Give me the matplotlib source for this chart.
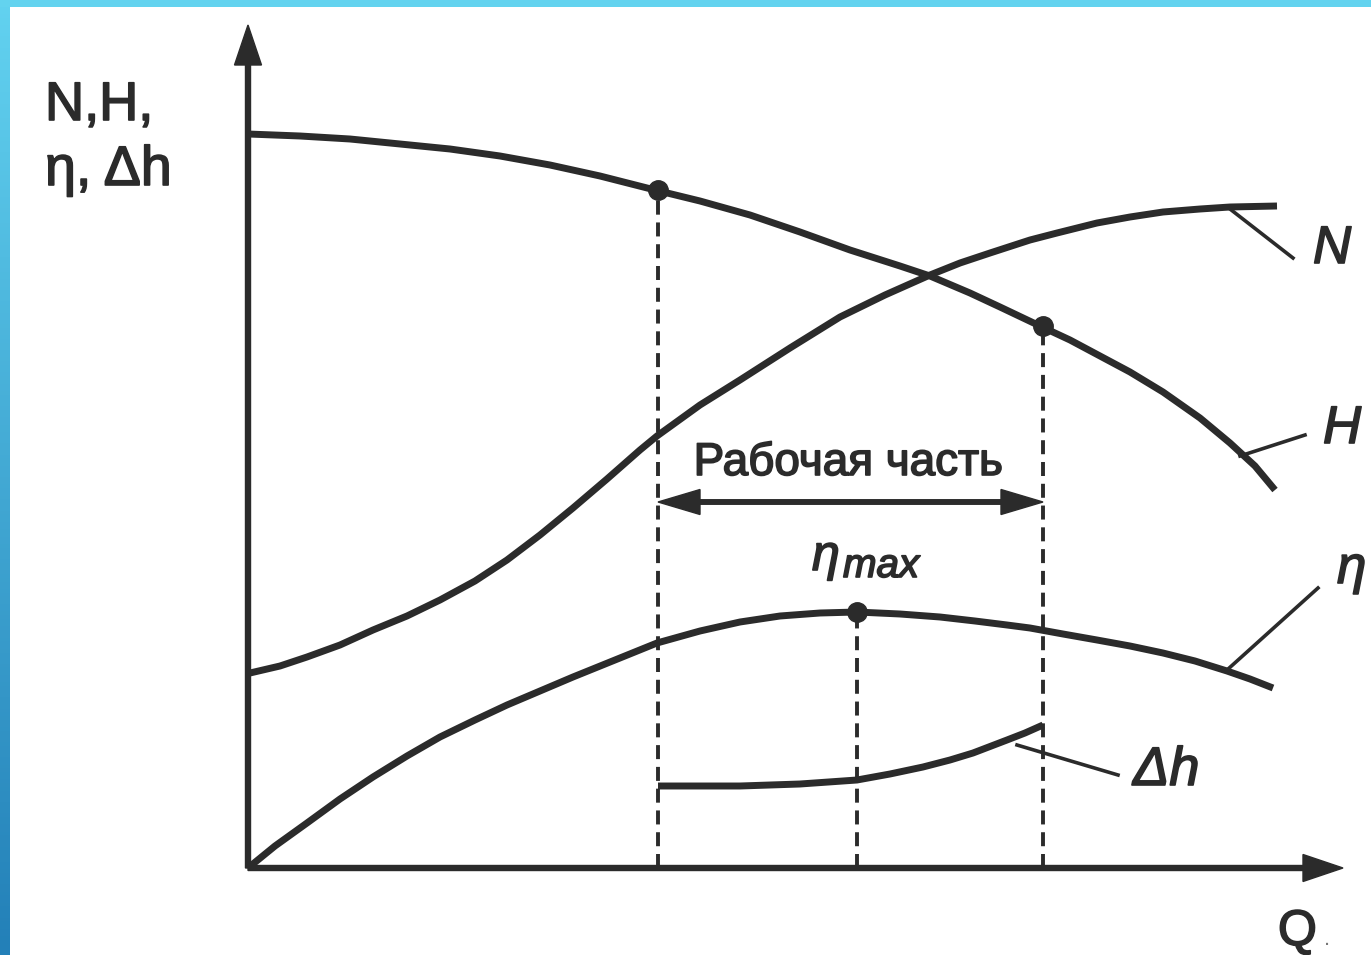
import matplotlib.pyplot as plt
import matplotlib.patheffects as pe
import numpy as np
from matplotlib.colors import LinearSegmentedColormap

# данные кривых (Q и значения в условных единицах)
Q_H = [0.00, 0.52, 1.02, 1.52, 2.02, 2.52, 3.02, 3.52, 4.07, 4.52, 5.02, 5.52, 6.02, 6.52,
       6.82, 7.22, 7.52, 7.92, 8.22, 8.52, 8.82, 9.15, 9.52, 9.82, 10.07, 10.27]
V_H = [7.34, 7.32, 7.29, 7.24, 7.19, 7.12, 7.03, 6.92, 6.78, 6.67, 6.53, 6.36, 6.18, 6.02,
       5.92, 5.75, 5.61, 5.42, 5.28, 5.12, 4.96, 4.76, 4.50, 4.25, 4.02, 3.78]

Q_N = [0.02, 0.32, 0.59, 0.92, 1.25, 1.59, 1.92, 2.27, 2.59, 2.92, 3.25, 3.59, 3.92, 4.09,
       4.52, 4.92, 5.42, 5.92, 6.37, 6.82, 7.12, 7.42, 7.82, 8.09, 8.49, 8.82, 9.15, 9.52,
       9.82, 10.29]
V_N = [1.95, 2.02, 2.11, 2.23, 2.38, 2.52, 2.68, 2.87, 3.08, 3.33, 3.60, 3.89, 4.18, 4.32,
       4.63, 4.88, 5.20, 5.51, 5.73, 5.93, 6.05, 6.15, 6.28, 6.35, 6.45, 6.51, 6.56, 6.59,
       6.61, 6.62]

Q_eta = [0.00, 0.27, 0.59, 0.92, 1.25, 1.59, 1.92, 2.27, 2.59, 2.92, 3.25, 3.67, 4.09,
         4.52, 4.92, 5.32, 5.72, 6.09, 6.52, 6.92, 7.27, 7.59, 7.82, 8.15, 8.49, 8.82, 9.15,
         9.47, 9.79, 10.02, 10.25]
V_eta = [0.00, 0.22, 0.45, 0.69, 0.91, 1.12, 1.31, 1.48, 1.63, 1.77, 1.91, 2.08, 2.25,
         2.37, 2.46, 2.52, 2.55, 2.56, 2.54, 2.51, 2.47, 2.43, 2.40, 2.34, 2.28, 2.22, 2.15,
         2.07, 1.97, 1.89, 1.80]

Q_dh = [4.10, 4.52, 4.92, 5.52, 6.09, 6.42, 6.75, 7.02, 7.25, 7.59, 7.77, 7.95]
V_dh = [0.82, 0.82, 0.82, 0.84, 0.88, 0.94, 1.01, 1.08, 1.15, 1.28, 1.35, 1.43]

# рабочая часть и точка максимума кпд
Q_left, V_left = 4.10, 6.78
Q_right, V_right = 7.95, 5.42
Q_max, V_max = 6.09, 2.56

curve_labels = ['N', 'H', 'η', 'Δh']
label_xy = [(10.65, 6.05), (10.75, 4.25), (10.89, 2.85), (8.85, 0.83)]
label_size = [38, 38, 38, 39]
leader_from = [(9.82, 6.59), (9.92, 4.12), (9.79, 1.98), (7.69, 1.23)]
leader_to = [(10.45, 6.10), (10.57, 4.33), (10.70, 2.80), (8.70, 0.93)]

ink = '#2b2b2b'
font = ['Liberation Sans', 'DejaVu Sans']
thick = [pe.withStroke(linewidth=1.2, foreground=ink)]

fig = plt.figure(figsize=(13.71, 9.55), dpi=100)
fig.patch.set_facecolor('white')
ax = fig.add_axes([0, 0, 1, 1])
ax.set_xlim(-2.48, 11.23)
ax.set_ylim(-0.87, 8.68)
ax.axis('off')

# оси со стрелками
ax.arrow(0, 0, 0, 8.43, width=0.05, head_width=0.27, head_length=0.40,
         length_includes_head=True, color=ink, zorder=3)
ax.arrow(0, 0, 10.95, 0, width=0.05, head_width=0.27, head_length=0.40,
         length_includes_head=True, color=ink, zorder=3)

# кривые
for q, v in [(Q_H, V_H), (Q_N, V_N), (Q_eta, V_eta), (Q_dh, V_dh)]:
    ax.plot(q, v, color=ink, lw=5, solid_capstyle='butt', solid_joinstyle='round', zorder=4)

# штриховые вертикали
for q, v in [(Q_left, V_left), (Q_max, V_max), (Q_right, V_right)]:
    ax.plot([q, q], [0, v], color=ink, lw=2.8, linestyle=(0, (3.6, 2.0)), zorder=2)
ax.plot([Q_left, Q_max, Q_right], [V_left, V_max, V_right], 'o', color=ink, ms=14, zorder=5)

# двусторонняя стрелка "Рабочая часть"
y_arr = 3.66
mid = (Q_left + Q_right) / 2
for end in (Q_left, Q_right):
    ax.arrow(mid, y_arr, end - mid, 0, width=0.045, head_width=0.25, head_length=0.42,
             length_includes_head=True, color=ink, zorder=3)
ax.text(mid - 0.02, 3.93, 'Рабочая часть', fontsize=33, family=font, color=ink,
        ha='center', va='baseline', path_effects=thick)

# подписи кривых с выносками
for lab, (tx, ty), fs, p0, p1 in zip(curve_labels, label_xy, label_size, leader_from, leader_to):
    ax.plot([p0[0], p1[0]], [p0[1], p1[1]], color=ink, lw=2.6, zorder=4)
    ax.text(tx, ty, lab, fontsize=fs, family=font, style='italic', color=ink,
            ha='left', va='baseline', path_effects=thick)

# η max
ax.text(5.64, 2.98, 'η', fontsize=36, family=font, style='italic', color=ink,
        ha='left', va='baseline', path_effects=thick)
ax.text(5.95, 2.91, 'max', fontsize=29, family=font, style='italic', color=ink,
        ha='left', va='baseline', path_effects=thick)

# подписи осей
ax.text(-2.03, 7.48, 'N,H,', fontsize=39, family=font, color=ink, ha='left', va='baseline',
        path_effects=thick)
ax.text(-2.03, 6.83, 'η, Δh', fontsize=40, family=font, color=ink, ha='left', va='baseline',
        path_effects=thick)
ax.text(10.30, -0.77, 'Q', fontsize=36, family=font, color=ink, ha='left', va='baseline',
        path_effects=thick)
ax.text(10.76, -0.77, '.', fontsize=16, family=font, color='#777777', ha='left', va='baseline')

# голубая рамка слева и сверху
side = fig.add_axes([0, 0, 10 / 1371, 1])
grad = np.linspace(0, 1, 256).reshape(-1, 1)
cmap = LinearSegmentedColormap.from_list('edge', ['#62d2f0', '#2380b8'])
side.imshow(grad, aspect='auto', cmap=cmap, extent=[0, 1, 0, 1])
side.axis('off')
top = fig.add_axes([0, 1 - 7 / 955, 1, 7 / 955])
top.set_facecolor('#63d3ef')
top.set_xticks([])
top.set_yticks([])
for s in top.spines.values():
    s.set_visible(False)

fig.savefig('out.png', dpi=100)
plt.close()
